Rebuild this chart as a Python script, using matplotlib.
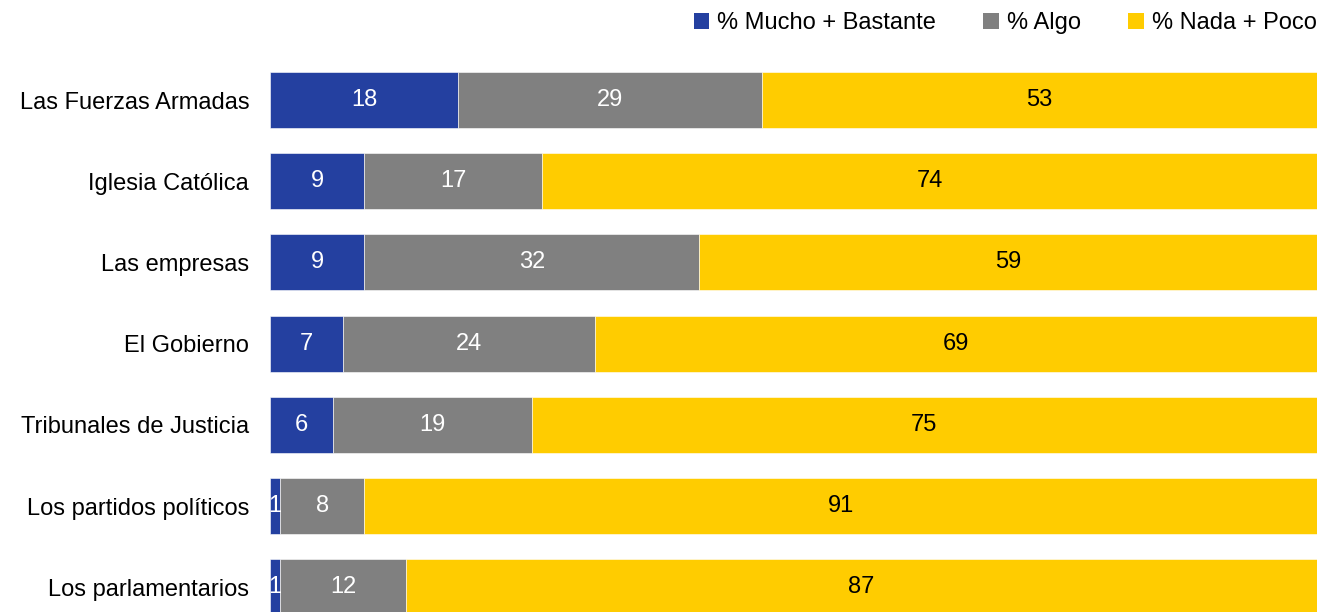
import matplotlib.pyplot as plt
from matplotlib.patches import Patch

plt.rcParams['font.family'] = ['Liberation Sans', 'DejaVu Sans']

categorias = ['Las Fuerzas Armadas', 'Iglesia Católica', 'Las empresas', 'El Gobierno',
              'Tribunales de Justicia', 'Los partidos políticos', 'Los parlamentarios']
mucho = [18, 9, 9, 7, 6, 1, 1]
algo = [29, 17, 32, 24, 19, 8, 12]
nada = [53, 74, 59, 69, 75, 91, 87]

series = ['% Mucho + Bastante', '% Algo', '% Nada + Poco']
colores = ['#2440A0', '#808080', '#FFCC00']
col_texto = ['white', 'white', 'black']

fig = plt.figure(figsize=(13.19, 6.12), dpi=100)
ax = fig.add_axes([270 / 1319, 0, 1047 / 1319, 572 / 612])

y = list(range(len(categorias)))
izq = [0] * len(categorias)
for vals, c, tc in zip([mucho, algo, nada], colores, col_texto):
    barras = ax.barh(y, vals, left=izq, height=0.69, color=c,
                     edgecolor='white', linewidth=0.4)
    for b, v in zip(barras, vals):
        ax.text(b.get_x() + b.get_width() / 2, b.get_y() + b.get_height() / 2,
                str(v), ha='center', va='center', color=tc, fontsize=17)
    izq = [a + v for a, v in zip(izq, vals)]

ax.set_xlim(0, 100)
ax.set_ylim(6.305, -0.739)
ax.set_yticks(y)
ax.set_yticklabels(categorias, fontsize=17)
ax.tick_params(axis='y', length=0, pad=15)
ax.set_xticks([])
for s in ax.spines.values():
    s.set_visible(False)

handles = [Patch(facecolor=c, edgecolor='none') for c in colores]
fig.legend(handles, series, loc='upper right', bbox_to_anchor=(1.009, 1.003), ncol=3,
           frameon=False, fontsize=17, handlelength=0.65, handleheight=0.65,
           handletextpad=0.35, columnspacing=2.0, borderaxespad=0.2)

fig.savefig('out.png', dpi=100)
